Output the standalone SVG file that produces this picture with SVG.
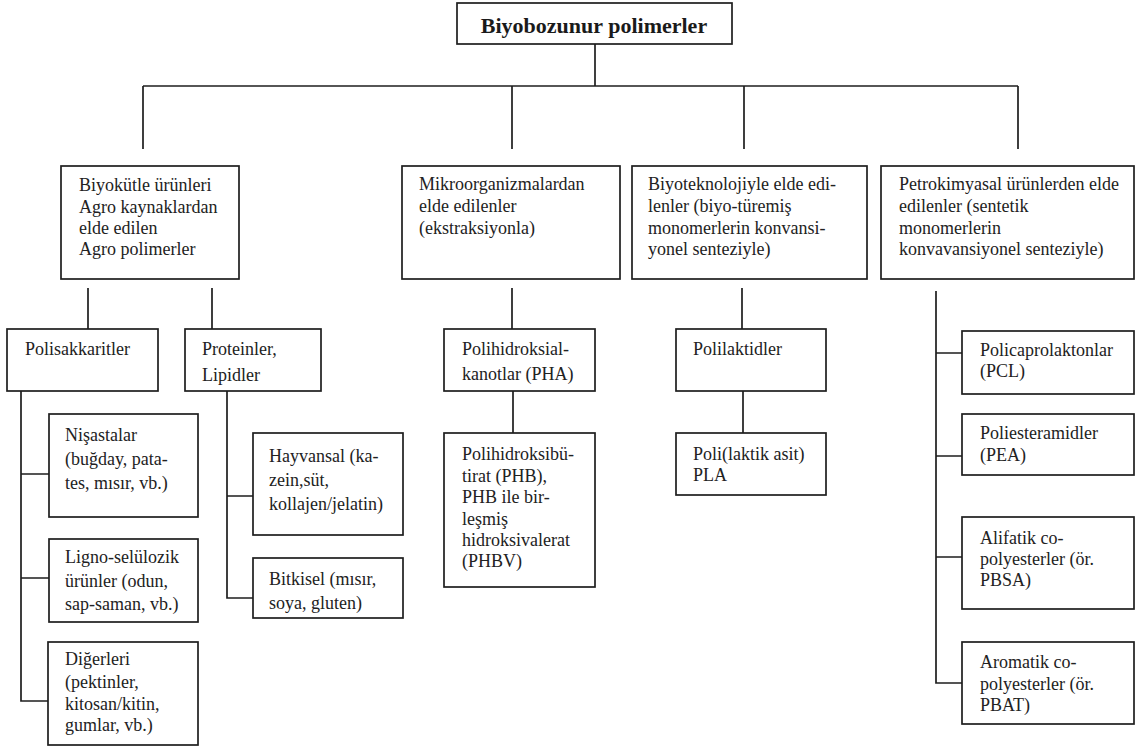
<svg xmlns="http://www.w3.org/2000/svg" width="1137" height="747" viewBox="0 0 1137 747">
<style>
.box{fill:#fff;stroke:#1e1e1e;stroke-width:1.7}
.t{font-family:'Liberation Serif','DejaVu Serif',serif;font-size:18px;fill:#222}
.title{font-family:'Liberation Serif','DejaVu Serif',serif;font-size:22px;font-weight:bold;fill:#1a1a1a;text-anchor:middle}
.conn{fill:none;stroke:#1e1e1e;stroke-width:1.7}
</style>
<rect width="1137" height="747" fill="#fff"/>
<g id="connectors" class="conn">
<path d="M595,44V86"/>
<path d="M143,86H1018"/>
<path d="M143,86V149M512,86V149M744,86V149M1018,86V149"/>
<path d="M88,288V329M212,288V329"/>
<path d="M21,391V701H48M21,474H49M21,578H49"/>
<path d="M227,391V598H253M227,496H253"/>
<path d="M512,288V329M513,391V433"/>
<path d="M742,288V329M743,391V433"/>
<path d="M936,291V683H962M936,353H962M936,456H962M936,557H962"/>
</g>
<g id="root"><rect class="box" x="457" y="3" width="275" height="41"/><text class="title" x="594" y="33">Biyobozunur polimerler</text></g>
<g id="agro"><rect class="box" x="61" y="166" width="178" height="113"/><text class="t" x="79" y="191">Biyokütle ürünleri</text><text class="t" x="79" y="213">Agro kaynaklardan</text><text class="t" x="79" y="234">elde edilen</text><text class="t" x="79" y="255">Agro polimerler</text></g>
<g id="mikro"><rect class="box" x="402" y="166" width="218" height="113"/><text class="t" x="419" y="190">Mikroorganizmalardan</text><text class="t" x="419" y="212">elde edilenler</text><text class="t" x="419" y="234">(ekstraksiyonla)</text></g>
<g id="biyotek"><rect class="box" x="632" y="166" width="235" height="113"/><text class="t" x="648" y="190">Biyoteknolojiyle elde edi-</text><text class="t" x="648" y="212">lenler (biyo-türemiş</text><text class="t" x="648" y="234">monomerlerin konvansi-</text><text class="t" x="648" y="255">yonel senteziyle)</text></g>
<g id="petro"><rect class="box" x="881" y="166" width="253" height="113"/><text class="t" x="899" y="190">Petrokimyasal ürünlerden elde</text><text class="t" x="899" y="212">edilenler (sentetik</text><text class="t" x="899" y="234">monomerlerin</text><text class="t" x="899" y="255">konvavansiyonel senteziyle)</text></g>
<g id="polisakkaritler"><rect class="box" x="7" y="329" width="151" height="62"/><text class="t" x="25" y="355">Polisakkaritler</text></g>
<g id="proteinler"><rect class="box" x="185" y="329" width="136" height="62"/><text class="t" x="202" y="355">Proteinler,</text><text class="t" x="202" y="381">Lipidler</text></g>
<g id="nisastalar"><rect class="box" x="49" y="414" width="149" height="103"/><text class="t" x="65" y="441">Nişastalar</text><text class="t" x="65" y="465">(buğday, pata-</text><text class="t" x="65" y="489">tes, mısır, vb.)</text></g>
<g id="ligno"><rect class="box" x="49" y="539" width="149" height="83"/><text class="t" x="65" y="563">Ligno-selülozik</text><text class="t" x="65" y="587">ürünler (odun,</text><text class="t" x="65" y="610">sap-saman, vb.)</text></g>
<g id="digerleri"><rect class="box" x="48" y="642" width="150" height="103"/><text class="t" x="65" y="665">Diğerleri</text><text class="t" x="65" y="688">(pektinler,</text><text class="t" x="65" y="710">kitosan/kitin,</text><text class="t" x="65" y="731">gumlar, vb.)</text></g>
<g id="hayvansal"><rect class="box" x="253" y="433" width="150" height="102"/><text class="t" x="269" y="462">Hayvansal (ka-</text><text class="t" x="269" y="486">zein,süt,</text><text class="t" x="269" y="510">kollajen/jelatin)</text></g>
<g id="bitkisel"><rect class="box" x="253" y="558" width="150" height="60"/><text class="t" x="269" y="585">Bitkisel (mısır,</text><text class="t" x="269" y="609">soya, gluten)</text></g>
<g id="pha"><rect class="box" x="444" y="329" width="151" height="62"/><text class="t" x="462" y="355">Polihidroksial-</text><text class="t" x="462" y="380">kanotlar (PHA)</text></g>
<g id="phb"><rect class="box" x="444" y="433" width="151" height="154"/><text class="t" x="462" y="460">Polihidroksibü-</text><text class="t" x="462" y="482">tirat (PHB),</text><text class="t" x="462" y="503">PHB ile bir-</text><text class="t" x="462" y="525">leşmiş</text><text class="t" x="462" y="546">hidroksivalerat</text><text class="t" x="462" y="567">(PHBV)</text></g>
<g id="polilaktidler"><rect class="box" x="676" y="329" width="150" height="62"/><text class="t" x="693" y="355">Polilaktidler</text></g>
<g id="pla"><rect class="box" x="676" y="433" width="150" height="62"/><text class="t" x="693" y="460">Poli(laktik asit)</text><text class="t" x="693" y="481">PLA</text></g>
<g id="pcl"><rect class="box" x="962" y="331" width="172" height="63"/><text class="t" x="980" y="356">Policaprolaktonlar</text><text class="t" x="980" y="377">(PCL)</text></g>
<g id="pea"><rect class="box" x="962" y="414" width="172" height="61"/><text class="t" x="980" y="439">Poliesteramidler</text><text class="t" x="980" y="461">(PEA)</text></g>
<g id="alifatik"><rect class="box" x="962" y="517" width="172" height="92"/><text class="t" x="980" y="544">Alifatik co-</text><text class="t" x="980" y="565">polyesterler (ör.</text><text class="t" x="980" y="586">PBSA)</text></g>
<g id="aromatik"><rect class="box" x="962" y="642" width="172" height="82"/><text class="t" x="980" y="668">Aromatik co-</text><text class="t" x="980" y="690">polyesterler (ör.</text><text class="t" x="980" y="711">PBAT)</text></g>
</svg>
